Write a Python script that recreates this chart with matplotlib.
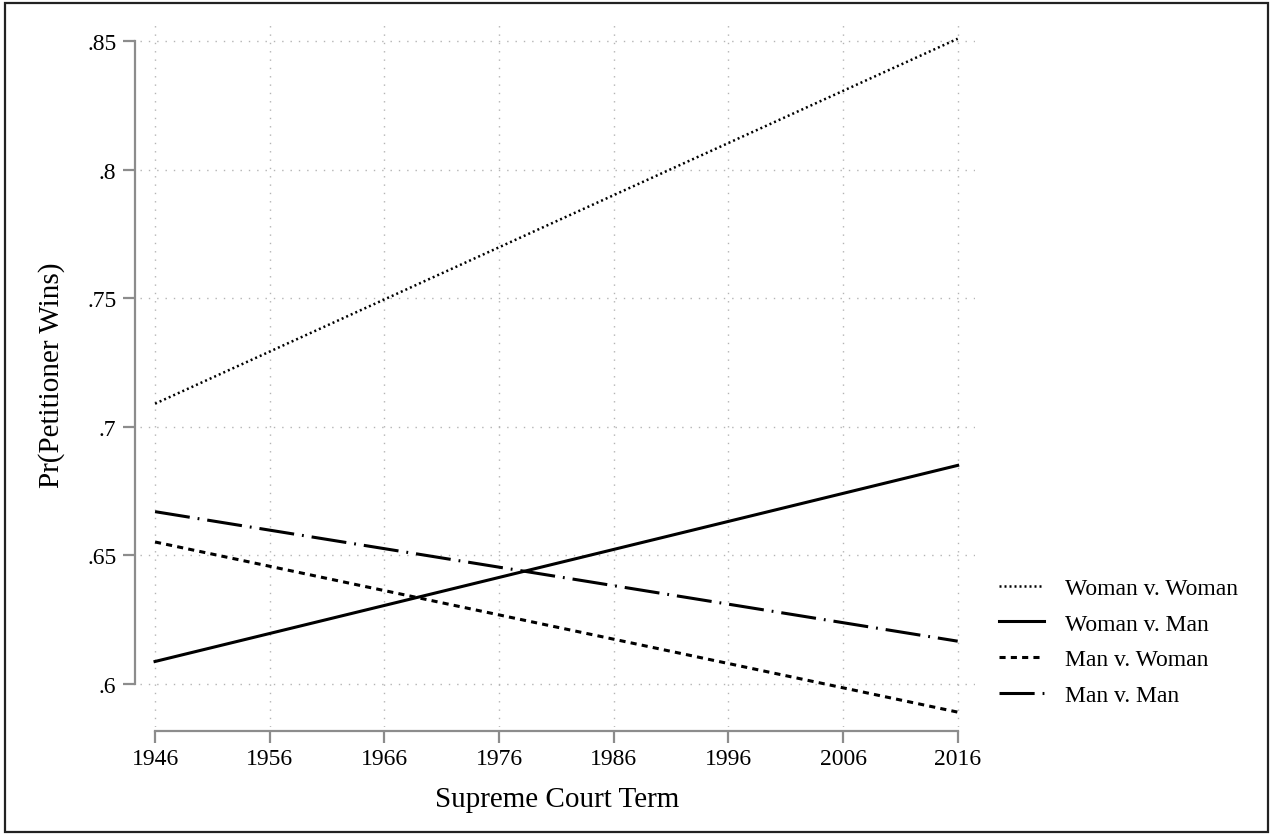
import matplotlib

matplotlib.use("Agg")
import matplotlib.pyplot as plt
from matplotlib.patches import Rectangle

# predicted probability at the first and last term, by pairing of counsel
terms = [1946, 2016]
woman_v_woman = [0.709, 0.851]
woman_v_man = [0.6087, 0.685]
man_v_woman = [0.6552, 0.589]
man_v_man = [0.667, 0.6166]

xticks = [1946, 1956, 1966, 1976, 1986, 1996, 2006, 2016]
yticks = [0.6, 0.65, 0.7, 0.75, 0.8, 0.85]
ytick_labels = [".6", ".65", ".7", ".75", ".8", ".85"]

plt.rcParams["font.family"] = ["Liberation Serif", "DejaVu Serif"]

AXIS_GRAY = "#8c8c8c"
GRID_GRAY = "#b4b4b4"

fig = plt.figure(figsize=(12.73, 8.37), dpi=100)
ax = fig.add_axes([0.110, 0.1302, 0.6559, 0.8435])

lw = 2.2
ax.plot(terms, woman_v_woman, color="black", lw=1.8,
        linestyle=(0, (0.8, 1.2)), label="Woman v. Woman")
ax.plot(terms, woman_v_man, color="black", lw=lw,
        linestyle="-", label="Woman v. Man")
ax.plot(terms, man_v_woman, color="black", lw=lw,
        linestyle=(0, (2.0, 1.7)), label="Man v. Woman")
ax.plot(terms, man_v_man, color="black", lw=lw,
        linestyle=(0, (11.5, 2.6, 0.6, 2.6)), label="Man v. Man")

ax.set_xlim(1944.69, 2017.51)
ax.set_ylim(0.5832, 0.8579)

ax.set_xticks(xticks)
ax.set_xticklabels([str(t) for t in xticks])
ax.set_yticks(yticks)
ax.set_yticklabels(ytick_labels)

ax.grid(True, color=GRID_GRAY, lw=1.0, linestyle=(0, (1, 5)))
ax.set_axisbelow(True)

for side in ("top", "right"):
    ax.spines[side].set_visible(False)
ax.spines["left"].set_position(("outward", 3.6))
ax.spines["left"].set_bounds(0.6, 0.85)
ax.spines["bottom"].set_position(("outward", 2.9))
ax.spines["bottom"].set_bounds(1946, 2016)
for side in ("left", "bottom"):
    ax.spines[side].set_color(AXIS_GRAY)
    ax.spines[side].set_linewidth(1.6)

ax.tick_params(axis="both", colors=AXIS_GRAY, width=1.6, length=8.5,
               labelcolor="black", labelsize=17, pad=4)
ax.tick_params(axis="y", pad=5)

ax.set_xlabel("Supreme Court Term", fontsize=21, labelpad=12)
ax.set_ylabel("Pr(Petitioner Wins)", fontsize=21, labelpad=16)

fig.legend(loc="center left", bbox_to_anchor=(0.768, 0.232),
           frameon=False, fontsize=17, handlelength=1.9,
           handletextpad=0.9, labelspacing=0.6)

# thin black frame round the whole figure
fig.patches.append(Rectangle((5 / 1273, 4 / 837), 1263 / 1273, 829 / 837,
                             transform=fig.transFigure, fill=False,
                             edgecolor="#222222", lw=1.6))

fig.savefig("out.png", dpi=100, facecolor="white")
